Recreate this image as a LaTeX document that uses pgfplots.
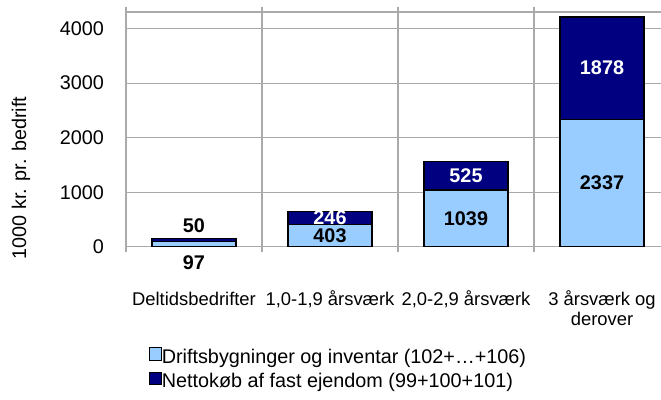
\documentclass[border=0pt]{standalone}
\usepackage{pgfplots}
\pgfplotsset{compat=1.18}
\usepackage{fontspec}
\setmainfont{Liberation Sans}
\definecolor{gridgray}{RGB}{170,170,170}
\definecolor{lightblue}{RGB}{153,204,255}
\definecolor{navy}{RGB}{0,0,128}
\newcommand\tickfont{\fontsize{19.8bp}{23bp}\selectfont}
\newcommand\catfont{\fontsize{18.4bp}{20bp}\selectfont}
\newcommand\lblfont{\fontsize{19.8bp}{23bp}\selectfont\bfseries}
\begin{document}
\begin{tikzpicture}
\useasboundingbox (0,0) rectangle (661bp,400bp);
\begin{axis}[
  at={(126bp,153.3bp)}, anchor=south west,
  scale only axis, width=544bp, height=234.7bp,
  xmin=-0.5, xmax=3.5, ymin=0, ymax=4306,
  ybar stacked, bar width=84bp,
  axis line style={draw=gridgray, line width=1.1bp},
  grid style={draw=gridgray, line width=1.1bp},
  ymajorgrids, xmajorgrids,
  ytick={0,1000,2000,3000,4000},
  ytick style={draw=none},
  /pgf/number format/assume math mode=true,
  /pgf/number format/1000 sep={},
  yticklabel style={font=\tickfont, anchor=east, inner sep=0pt, xshift=-17bp},
  xtick={-0.5,0.5,1.5,2.5,3.5},
  xticklabels={},
  tick align=outside, major tick length=5bp,
  xtick style={draw=gridgray, line width=1.1bp},
  extra x ticks={0,1,2,3},
  extra x tick labels={{\rule{0pt}{15bp}Deltidsbedrifter},{\rule{0pt}{15bp}1,0-1,9 årsværk},{\rule{0pt}{15bp}2,0-2,9 årsværk},{\rule{0pt}{15bp}3 årsværk og\\derover}},
  extra x tick style={grid=none, major tick length=0pt, xtick style={draw=none}},
  xticklabel style={font=\catfont, anchor=north, inner sep=0pt, align=center, yshift=-43.3bp},
  ylabel={1000 kr. pr. bedrift},
  every axis y label/.style={at={(axis description cs:-0.1930,0.2927)}, rotate=90, anchor=center, font=\tickfont},
  legend style={at={(axis description cs:0.041,-0.4274)}, anchor=north west, draw=none, fill=none, inner sep=0pt,
    font=\fontsize{19.8bp}{23bp}\selectfont, row sep=4.3bp,
    nodes={inner sep=0pt, text height=14.5bp, text depth=4.3bp},
    /tikz/every even column/.append style={column sep=2bp}},
  legend cell align=left,
  legend image code/.code={\draw[#1, draw=black, line width=0.9bp] (0bp,-2.1bp) rectangle (12.4bp,10.3bp);},
  clip=false,
]
\addplot[fill=lightblue, draw=black, line width=1.2bp] coordinates {(0,97) (1,403) (2,1039) (3,2337)};
\addplot[fill=navy, draw=black, line width=1.2bp] coordinates {(0,50) (1,246) (2,525) (3,1878)};
\legend{Driftsbygninger og inventar (102+…+106), Nettokøb af fast ejendom (99+100+101)}
\coordinate (a1) at (axis cs:0,0);
\coordinate (b1) at (axis cs:0,147);
\coordinate (a2) at (axis cs:1,201.5);
\coordinate (b2) at (axis cs:1,526);
\coordinate (a3) at (axis cs:2,519.5);
\coordinate (b3) at (axis cs:2,1301.5);
\coordinate (a4) at (axis cs:3,1168.5);
\coordinate (b4) at (axis cs:3,3276);
\end{axis}
\node[font=\lblfont, text=black, yshift=-16bp] at (a1) {97};
\node[font=\lblfont, text=black, yshift=12.7bp] at (b1) {50};
\node[font=\lblfont, text=black] at (a2) {403};
\node[font=\lblfont, text=white] at (b2) {246};
\node[font=\lblfont, text=black] at (a3) {1039};
\node[font=\lblfont, text=white] at (b3) {525};
\node[font=\lblfont, text=black] at (a4) {2337};
\node[font=\lblfont, text=white] at (b4) {1878};
\end{tikzpicture}
\end{document}
